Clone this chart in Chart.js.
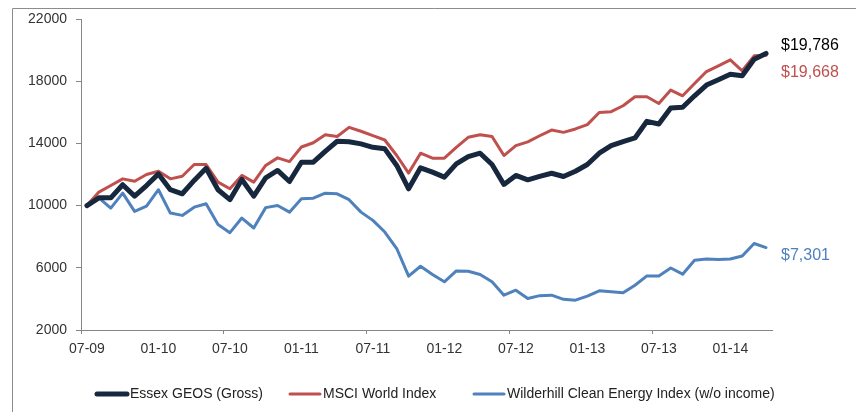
<!DOCTYPE html>
<html>
<head>
<meta charset="utf-8">
<script src="https://cdn.jsdelivr.net/npm/chart.js@4.4.1/dist/chart.umd.min.js"></script>
<style>
  html, body { margin: 0; padding: 0; background: #fff; }
  #wrap { position: relative; width: 856px; height: 412px; }
</style>
</head>
<body>
<div id="wrap"><canvas id="perfChart" width="856" height="412"></canvas></div>
<script>
// monthly growth of 10,000 from 07-09 to 04-14
const months = [
  "07-09", "08-09", "09-09", "10-09", "11-09", "12-09",
  "01-10", "02-10", "03-10", "04-10", "05-10", "06-10", "07-10", "08-10", "09-10", "10-10", "11-10", "12-10",
  "01-11", "02-11", "03-11", "04-11", "05-11", "06-11", "07-11", "08-11", "09-11", "10-11", "11-11", "12-11",
  "01-12", "02-12", "03-12", "04-12", "05-12", "06-12", "07-12", "08-12", "09-12", "10-12", "11-12", "12-12",
  "01-13", "02-13", "03-13", "04-13", "05-13", "06-13", "07-13", "08-13", "09-13", "10-13", "11-13", "12-13",
  "01-14", "02-14", "03-14", "04-14"
];
const tickLabels = ["07-09", "01-10", "07-10", "01-11", "07-11", "01-12", "07-12", "01-13", "07-13", "01-14"];

const essexGeos = [
  10000, 10500, 10500, 11340, 10610, 11290, 12040, 11020, 10760, 11620,
  12400, 11020, 10380, 11680, 10610, 11790, 12260, 11550, 12790, 12790,
  13490, 14140, 14110, 13970, 13750, 13650, 12580, 11080, 12430, 12150,
  11830, 12680, 13150, 13370, 12640, 11360, 11940, 11660, 11880, 12080,
  11870, 12210, 12640, 13370, 13860, 14120, 14350, 15420, 15250, 16270,
  16320, 17060, 17750, 18090, 18450, 18350, 19410, 19786
];
const msciWorld = [
  10000, 10870, 11290, 11720, 11570, 12000, 12210, 11720, 11890, 12640,
  12640, 11510, 11080, 11940, 11510, 12580, 13070, 12830, 13770, 14040,
  14560, 14440, 15030, 14780, 14500, 14220, 13220, 12090, 13370, 13050,
  13050, 13750, 14390, 14560, 14440, 13220, 13860, 14100, 14490, 14860,
  14710, 14930, 15210, 15990, 16040, 16420, 17000, 17000, 16570, 17430,
  17060, 17850, 18620, 18990, 19370, 18670, 19630, 19668
];
const wilderhill = [
  10000, 10500, 9840, 10800, 9630, 9970, 11020, 9520, 9370, 9900,
  10120, 8790, 8260, 9200, 8560, 9870, 10010, 9580, 10440, 10480,
  10800, 10760, 10380, 9580, 9050, 8300, 7240, 5460, 6100, 5570,
  5100, 5800, 5780, 5570, 5100, 4240, 4560, 4030, 4210, 4240,
  3970, 3920, 4180, 4520, 4460, 4390, 4880, 5480, 5480, 5990,
  5590, 6490, 6570, 6530, 6570, 6760, 7560, 7301
];

const seriesNames = ["Essex GEOS (Gross)", "MSCI World Index", "Wilderhill Clean Energy Index (w/o income)"];
const seriesColors = ["#17283e", "#c0504d", "#4f81bd"];
const seriesWidths = [5, 3, 3];

const axisGrey = "#868686";
const textFont = "'Liberation Sans', Arial, sans-serif";

// end-of-line value labels ($19,786 etc.)
const endLabels = {
  id: "endLabels",
  afterDatasetsDraw(chart) {
    const ctx = chart.ctx;
    const yShift = [-8, 17, 8];
    ctx.save();
    ctx.font = "16px " + textFont;
    ctx.textBaseline = "middle";
    ctx.textAlign = "left";
    chart.data.datasets.forEach((ds, i) => {
      const pts = chart.getDatasetMeta(i).data;
      const last = pts[pts.length - 1];
      const v = ds.data[ds.data.length - 1];
      ctx.fillStyle = i === 0 ? "#000" : ds.borderColor;
      ctx.fillText("$" + v.toLocaleString("en-US"), last.x + 15, last.y + yShift[i]);
    });
    ctx.restore();
  }
};

// legend along the bottom, line sample then name
const lineLegend = {
  id: "lineLegend",
  afterDraw(chart) {
    const ctx = chart.ctx;
    const starts = [95, 288, 472];
    const y = 394;
    ctx.save();
    ctx.font = "14px " + textFont;
    ctx.textBaseline = "middle";
    chart.data.datasets.forEach((ds, i) => {
      ctx.strokeStyle = ds.borderColor;
      ctx.lineWidth = ds.borderWidth;
      ctx.lineCap = "round";
      ctx.beginPath();
      ctx.moveTo(starts[i] + 2, y);
      ctx.lineTo(starts[i] + 32, y);
      ctx.stroke();
      ctx.fillStyle = "#222";
      ctx.fillText(ds.label, starts[i] + 35, y);
    });
    ctx.restore();
  }
};

// outer chart border (only left and top edges are visible)
const frame = {
  id: "frame",
  beforeDraw(chart) {
    const ctx = chart.ctx;
    ctx.save();
    ctx.strokeStyle = "#8c8c8c";
    ctx.lineWidth = 1;
    ctx.beginPath();
    ctx.moveTo(12.5, chart.height);
    ctx.lineTo(12.5, 8.5);
    ctx.lineTo(chart.width, 8.5);
    ctx.stroke();
    ctx.restore();
  }
};

new Chart(document.getElementById("perfChart").getContext("2d"), {
  type: "line",
  data: {
    labels: months,
    datasets: [
      { label: seriesNames[0], data: essexGeos },
      { label: seriesNames[1], data: msciWorld },
      { label: seriesNames[2], data: wilderhill }
    ].map((ds, i) => ({
      ...ds,
      borderColor: seriesColors[i],
      backgroundColor: seriesColors[i],
      borderWidth: seriesWidths[i],
      borderJoinStyle: "round",
      borderCapStyle: "round",
      pointRadius: 0,
      tension: 0,
      fill: false
    }))
  },
  options: {
    responsive: false,
    animation: false,
    devicePixelRatio: 1,
    layout: { padding: { top: 19, right: 84, bottom: 54, left: 0 } },
    scales: {
      x: {
        type: "category",
        offset: true,
        afterFit(s) { s.height = 28; },
        border: { display: true, color: axisGrey, width: 1 },
        grid: {
          offset: true,
          drawOnChartArea: false,
          drawTicks: true,
          tickLength: 4,
          color: (c) => (months[c.index] || "").startsWith("07") ? axisGrey : "rgba(0,0,0,0)"
        },
        ticks: {
          autoSkip: false,
          maxRotation: 0,
          padding: 7,
          color: "#333",
          font: { family: textFont, size: 14 },
          callback(value, index) {
            const lab = months[index];
            return tickLabels.includes(lab) ? lab : "";
          }
        }
      },
      y: {
        min: 2000,
        max: 22000,
        afterFit(s) { s.width = 81; },
        border: { display: true, color: axisGrey, width: 1 },
        grid: { drawOnChartArea: false, drawTicks: true, tickLength: 5, color: axisGrey },
        ticks: {
          stepSize: 4000,
          padding: 9,
          color: "#333",
          font: { family: textFont, size: 14 },
          callback: (v) => String(v)
        }
      }
    },
    plugins: {
      legend: { display: false },
      tooltip: { enabled: false }
    }
  },
  plugins: [frame, endLabels, lineLegend]
});
</script>
</body>
</html>
